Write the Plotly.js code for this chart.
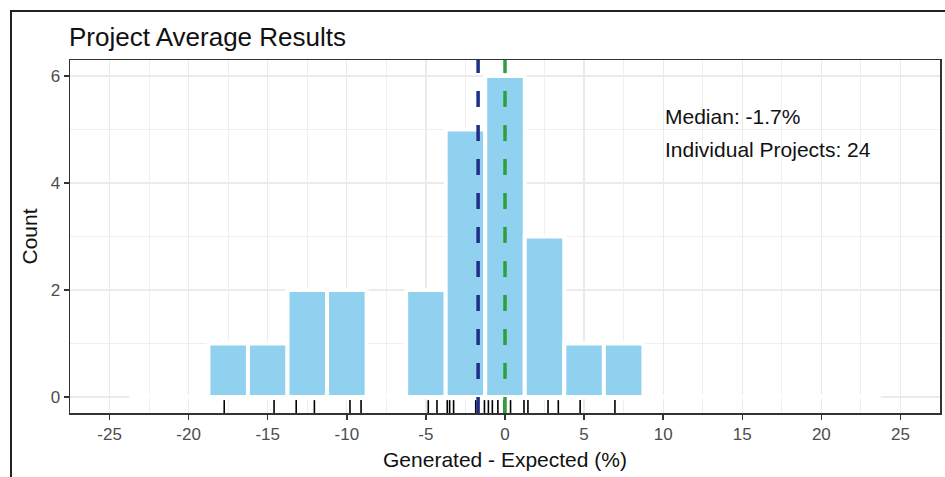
<!DOCTYPE html>
<html>
<head>
<meta charset="utf-8">
<script src="https://cdn.plot.ly/plotly-3.0.1.min.js"></script>
<style>
  html, body { margin: 0; padding: 0; background: #fff; }
  #wrap { position: relative; width: 945px; height: 477px; overflow: hidden; }
  #chart { position: absolute; left: 0; top: 0; width: 945px; height: 477px; }
  #frame { position: absolute; left: 10px; top: 10px; width: 940px; height: 480px;
           border-left: 2px solid #222; border-top: 2px solid #222; pointer-events: none; }
</style>
</head>
<body>
<div id="wrap">
  <div id="chart"></div>
  <div id="frame"></div>
</div>
<script>
// Histogram bins (centre of each 2.5-wide bin) and counts
const binCenters = [-22.5, -20, -17.5, -15, -12.5, -10, -7.5, -5, -2.5, 0, 2.5, 5, 7.5, 10, 12.5, 15, 17.5, 20, 22.5];
const binCounts  = [0, 0, 1, 1, 2, 2, 0, 2, 5, 6, 3, 1, 1, 0, 0, 0, 0, 0, 0];
const binWidth = 2.5;

// Individual project values (rug)
const projectValues = [-17.75, -14.6, -13.2, -12.05, -9.8, -9.1, -4.85, -4.3, -3.65, -3.5, -3.25,
                       -1.85, -1.3, -1.05, -0.8, -0.45, -0.05, 0.35, 1.2, 1.45, 2.72, 3.37, 4.75, 6.95];

const medianValue = -1.7;
const referenceValue = 0;
const annotationLines = ["Median: -1.7%", "Individual Projects: 24"];

const xTicks = [-25, -20, -15, -10, -5, 0, 5, 10, 15, 20, 25];
const yTicks = [0, 2, 4, 6];

const barTrace = {
  type: 'bar',
  x: binCenters,
  y: binCounts,
  width: binCenters.map(() => binWidth),
  marker: { color: '#8fd1ef', line: { color: '#ffffff', width: 4 } },
  hoverinfo: 'skip',
  showlegend: false
};

const rugTrace = {
  type: 'scatter',
  mode: 'markers',
  x: projectValues,
  y: projectValues.map(() => -0.19),
  marker: { symbol: 'line-ns', size: 10, color: '#000', line: { color: '#000', width: 1.6 } },
  hoverinfo: 'skip',
  showlegend: false,
  cliponaxis: true
};

const gridColor = '#ebebeb';
const FONT = '"Liberation Sans", Arial, sans-serif';
const layout = {
  width: 945, height: 477,
  margin: { l: 70, r: 5, t: 60, b: 64 },
  paper_bgcolor: 'rgba(0,0,0,0)',
  plot_bgcolor: '#ffffff',
  font: { family: FONT, color: '#4d4d4d', size: 17 },
  bargap: 0,
  showlegend: false,
  title: {
    text: 'Project Average Results',
    font: { size: 26, color: '#111', family: FONT },
    x: 69 / 945, xanchor: 'left', xref: 'container',
    y: 1 - 37 / 477, yanchor: 'middle', yref: 'container'
  },
  xaxis: {
    range: [-27.5, 27.5],
    tickmode: 'array', tickvals: xTicks, ticktext: xTicks.map(String),
    ticks: 'outside', ticklen: 5, tickwidth: 1.5, tickcolor: '#333',
    tickfont: { size: 17, color: '#4d4d4d' },
    showgrid: true, gridcolor: gridColor, gridwidth: 1.3,
    minor: { dtick: 2.5, tick0: 0, showgrid: true, gridcolor: gridColor, gridwidth: 0.8, ticklen: 0 },
    zeroline: false,
    showline: true, linecolor: '#333', linewidth: 1.5, mirror: true,
    title: { text: 'Generated - Expected (%)', font: { size: 21, color: '#111' }, standoff: 9 }
  },
  yaxis: {
    range: [-0.3, 6.3],
    tickmode: 'array', tickvals: yTicks, ticktext: yTicks.map(String),
    ticks: 'outside', ticklen: 5, tickwidth: 1.5, tickcolor: '#333',
    tickfont: { size: 17, color: '#4d4d4d' },
    showgrid: true, gridcolor: gridColor, gridwidth: 1.3,
    minor: { dtick: 1, tick0: 0, showgrid: true, gridcolor: gridColor, gridwidth: 0.8, ticklen: 0 },
    zeroline: false,
    showline: true, linecolor: '#333', linewidth: 1.5, mirror: true,
    title: { text: 'Count', font: { size: 21, color: '#111' }, standoff: 7 }
  },
  shapes: [
    {
      type: 'line', layer: 'between', xref: 'x', yref: 'y',
      x0: binCenters[0] - binWidth / 2, x1: binCenters[binCenters.length - 1] + binWidth / 2,
      y0: 0, y1: 0, line: { color: '#ffffff', width: 3 }
    },
    {
      type: 'line', layer: 'above', xref: 'x', yref: 'paper',
      x0: medianValue, x1: medianValue, y0: 0, y1: 1,
      line: { color: '#1f2e86', width: 3.5, dash: '16px,18px' }
    },
    {
      type: 'line', layer: 'above', xref: 'x', yref: 'paper',
      x0: referenceValue, x1: referenceValue, y0: 0, y1: 1,
      line: { color: '#2f9e3c', width: 3.5, dash: '16px,18px' }
    }
  ],
  annotations: [
    { text: annotationLines[0], x: 10, y: 5.24, xref: 'x', yref: 'y', xanchor: 'left', yanchor: 'middle',
      showarrow: false, font: { size: 21, color: '#111' } },
    { text: annotationLines[1], x: 10, y: 4.62, xref: 'x', yref: 'y', xanchor: 'left', yanchor: 'middle',
      showarrow: false, font: { size: 21, color: '#111' } }
  ]
};

Plotly.newPlot('chart', [barTrace, rugTrace], layout, { displayModeBar: false, staticPlot: true });
</script>
</body>
</html>
